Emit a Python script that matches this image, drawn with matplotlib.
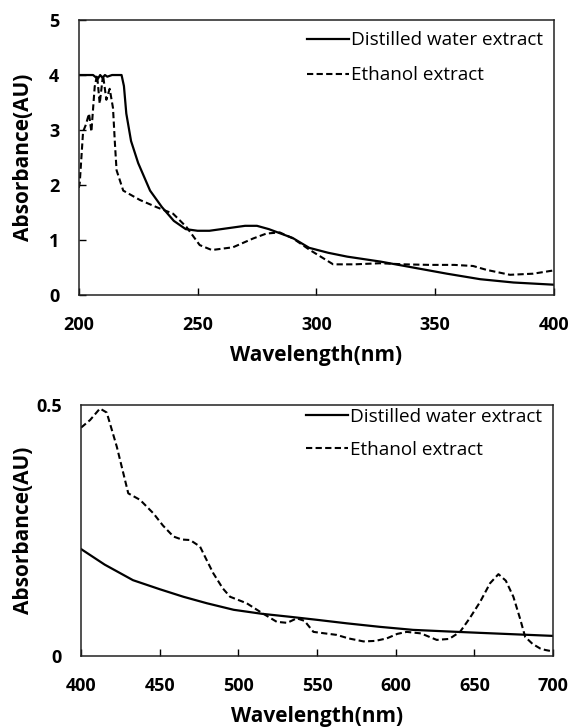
import matplotlib
matplotlib.use("Agg")
import matplotlib.pyplot as plt

plt.rcParams['font.family'] = ['Open Sans', 'DejaVu Sans']

# UV range (200-400 nm)
uv_water_x = [200, 203, 206, 208, 209, 210, 211, 212, 214, 216, 218, 219, 220, 222, 225,
              230, 235, 240, 245, 250, 255, 260, 265, 270, 275, 280, 285, 290, 297,
              305, 313, 327, 341, 355, 369, 383, 400]
uv_water_y = [4.0, 4.0, 4.0, 3.93, 4.0, 3.95, 4.0, 3.97, 4.0, 4.0, 4.0, 3.8, 3.3, 2.8, 2.4,
              1.9, 1.6, 1.35, 1.2, 1.17, 1.17, 1.2, 1.23, 1.26, 1.26, 1.2, 1.12, 1.04, 0.86,
              0.77, 0.70, 0.61, 0.50, 0.39, 0.29, 0.23, 0.19]
uv_eth_x = [200, 200.4, 201.8, 203, 204.3, 205.3, 206.7, 207.7, 208.8, 210.2, 211.6, 213,
            214.4, 215.2, 215.9, 218.7, 225.7, 232.7, 239.7, 245.3, 250.9, 256, 264.9,
            273.4, 279, 284.6, 290.2, 297.3, 307.1, 316, 326.7, 337, 347.8, 358, 366,
            371.6, 381.5, 391.2, 400]
uv_eth_y = [1.95, 2.04, 2.97, 3.1, 3.3, 2.97, 3.79, 4.0, 3.48, 4.0, 3.55, 3.75,
            3.4, 2.76, 2.27, 1.9, 1.73, 1.6, 1.48, 1.24, 0.91, 0.82, 0.87,
            1.03, 1.12, 1.14, 1.03, 0.82, 0.56, 0.56, 0.58, 0.56, 0.55, 0.55, 0.53,
            0.46, 0.37, 0.39, 0.45]

# Visible range (400-700 nm)
vis_water_x = [400, 415, 433, 450, 465, 480, 497, 515, 533, 550, 569, 590, 611, 632, 654, 677, 700]
vis_water_y = [0.213, 0.182, 0.151, 0.133, 0.118, 0.105, 0.092, 0.084, 0.078, 0.072, 0.065,
               0.058, 0.052, 0.049, 0.046, 0.043, 0.040]
vis_eth_x = [400, 405.7, 412, 416.3, 422.7, 430, 437.5, 446, 452, 458.7, 464, 469.3, 475.6,
             480, 484, 490, 494.7, 505.3, 513.8, 524.4, 531, 537.1, 542, 547.7, 555, 562.5,
             570, 579.5, 587, 594.3, 601, 607, 616, 626.1, 634, 640.9, 647, 653.7, 660,
             665.3, 670, 674.8, 679, 682.3, 687, 691.8, 695, 700]
vis_eth_y = [0.455, 0.47, 0.493, 0.485, 0.417, 0.324, 0.311, 0.284, 0.26, 0.238, 0.232,
             0.231, 0.218, 0.19, 0.165, 0.135, 0.118, 0.105, 0.088, 0.068, 0.066, 0.075,
             0.07, 0.048, 0.045, 0.042, 0.035, 0.029, 0.03, 0.035, 0.044, 0.048, 0.045,
             0.032, 0.034, 0.048, 0.075, 0.108, 0.145, 0.163, 0.15, 0.118, 0.075, 0.038,
             0.024, 0.015, 0.012, 0.009]

series_labels = ["Distilled water extract", "Ethanol extract"]
uv_xticks = [200, 250, 300, 350, 400]
uv_yticks = [0, 1, 2, 3, 4, 5]
vis_xticks = [400, 450, 500, 550, 600, 650, 700]
vis_yticks = [0, 0.5]

dash = (0, (3, 1.6))

fig = plt.figure(figsize=(5.71, 7.27), dpi=100)
ax1 = fig.add_axes([0.138, 0.594, 0.832, 0.3785])
ax2 = fig.add_axes([0.142, 0.0977, 0.8265, 0.3452])

ax1.plot(uv_water_x, uv_water_y, color="black", lw=1.6, label=series_labels[0])
ax1.plot(uv_eth_x, uv_eth_y, color="black", lw=1.5, linestyle=dash, label=series_labels[1])
ax1.set_xlim(200, 400)
ax1.set_ylim(0, 5)
ax1.set_xticks(uv_xticks)
ax1.set_yticks(uv_yticks)

ax2.plot(vis_water_x, vis_water_y, color="black", lw=1.6, label=series_labels[0])
ax2.plot(vis_eth_x, vis_eth_y, color="black", lw=1.5, linestyle=dash, label=series_labels[1])
ax2.set_xlim(400, 700)
ax2.set_ylim(0, 0.5)
ax2.set_xticks(vis_xticks)
ax2.set_yticks(vis_yticks)
ax2.set_yticklabels(["0", "0.5"])

for ax in (ax1, ax2):
    for s in ax.spines.values():
        s.set_linewidth(1.1)
        s.set_color("#222222")
    ax.tick_params(direction="in", length=5, width=1, labelsize=13)
    ax.tick_params(axis="x", pad=15)
    ax.tick_params(axis="y", pad=14)
    for lbl in ax.get_xticklabels() + ax.get_yticklabels():
        lbl.set_fontweight("bold")
    ax.set_xlabel("Wavelength(nm)", fontsize=15, fontweight="bold", labelpad=8)
    ax.set_ylabel("Absorbance(AU)", fontsize=15, fontweight="bold")
ax2.tick_params(axis="y", length=0)

# y labels sit at the same page column in both panels
ax1.yaxis.set_label_coords(-0.095, 0.5)
ax2.yaxis.set_label_coords(-0.100, 0.5)

ax1.legend(loc="upper right", frameon=False, fontsize=13.6, handlelength=2.2,
           handletextpad=0.1, borderaxespad=0.2, labelspacing=0.9,
           bbox_to_anchor=(1.0, 1.0))
ax2.legend(loc="upper right", frameon=False, fontsize=13.6, handlelength=2.2,
           handletextpad=0.1, borderaxespad=0.2, labelspacing=0.8,
           bbox_to_anchor=(1.0, 1.035))

fig.savefig("out.png", dpi=100)
